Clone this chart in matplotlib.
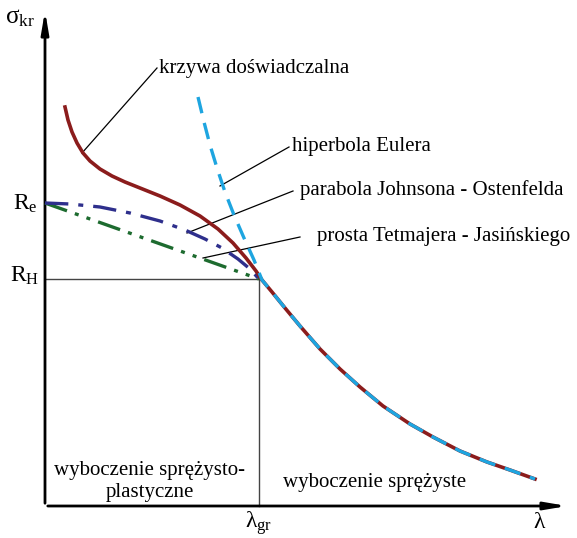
import matplotlib.pyplot as plt

# dane (jednostki umowne)
lam_exp = [20, 23, 27, 32, 38, 45, 55, 67, 80, 95, 115, 135, 155, 173, 188, 201, 211, 217,
           227, 240, 255, 275, 295, 315, 338, 365, 388, 415, 442, 465, 490]
sig_exp = [399, 386, 374, 363, 353, 345, 337, 330, 324, 318, 310, 301, 290, 277, 263, 248, 235, 226,
           214, 198, 180, 157, 137, 119, 100, 82, 69, 55, 44, 36, 27]

lam_euler = [153, 159, 165, 172, 180, 189, 199, 209, 217, 227, 240, 255, 275, 295, 315, 338,
             365, 388, 415, 442, 465, 490]
sig_euler = [409, 384, 361, 338, 314, 291, 268, 246, 226, 214, 198, 180, 157, 137, 119, 100,
             82, 69, 55, 44, 36, 27]

lam_johnson = [0, 25, 55, 85, 115, 140, 160, 177, 193, 205, 214]
sig_johnson = [303, 302, 299, 293, 285, 276, 267, 258, 247, 237, 227]

lam_tetm = [0, 214]
sig_tetm = [303, 227]

lam_gr = 214
R_e = 303
R_H = 227

plt.rcParams['font.family'] = ['Liberation Serif', 'DejaVu Serif']
plt.rcParams['mathtext.default'] = 'regular'

fig = plt.figure(figsize=(5.77, 5.38), dpi=100)
ax = fig.add_axes([0, 0, 1, 1])
ax.set_xlim(-45, 532)
ax.set_ylim(-32, 506)
ax.axis('off')

# osie
ax.annotate('', xy=(0, 498), xytext=(0, 0),
            arrowprops=dict(arrowstyle='-|>,head_length=1.3,head_width=0.22', color='black', lw=2))
ax.annotate('', xy=(525, 0), xytext=(0, 0),
            arrowprops=dict(arrowstyle='-|>,head_length=1.3,head_width=0.22', color='black', lw=2))

# linie pomocnicze
ax.plot([0, lam_gr], [R_H, R_H], color='#444444', lw=1)
ax.plot([lam_gr, lam_gr], [0, R_H], color='#444444', lw=1)

# krzywe
ax.plot(lam_tetm, sig_tetm, color='#1d6b2f', lw=2.4, dashes=[7, 2.5, 1.2, 2.5, 1.2, 2.5], zorder=3)
ax.plot(lam_johnson, sig_johnson, color='#2e2f8c', lw=2.4, dashes=[7, 3, 1.5, 3], zorder=4)
ax.plot(lam_exp, sig_exp, color='#8b1c1c', lw=2.6, zorder=5)
ax.plot(lam_euler, sig_euler, color='#1ea5e0', lw=2.4, dashes=[5, 3], zorder=6)

# opisy z odnośnikami
fs = 15
ax.plot([112, 37], [438, 353], color='black', lw=0.9)
ax.text(114, 438, 'krzywa doświadczalna', fontsize=fs, va='center', ha='left')
ax.plot([244, 175], [359, 320], color='black', lw=0.9)
ax.text(247, 359, 'hiperbola Eulera', fontsize=fs, va='center', ha='left')
ax.plot([248, 142], [315, 273], color='black', lw=0.9)
ax.text(255, 316, 'parabola Johnsona - Ostenfelda', fontsize=fs, va='center', ha='left')
ax.plot([255, 158], [269, 248], color='black', lw=0.9)
ax.text(272, 270, 'prosta Tetmajera - Jasińskiego', fontsize=fs, va='center', ha='left')

ax.text(105, 36, 'wyboczenie sprężysto-', fontsize=fs, va='center', ha='center')
ax.text(105, 13, 'plastyczne', fontsize=fs, va='center', ha='center')
ax.text(238, 24, 'wyboczenie sprężyste', fontsize=fs, va='center', ha='left')

# etykiety osi
ax.text(-25, 488, r'$σ_{kr}$', fontsize=18, va='center', ha='center')
ax.text(-20, 302, r'$R_e$', fontsize=17, va='center', ha='center')
ax.text(-20, 230, r'$R_H$', fontsize=17, va='center', ha='center')
ax.text(lam_gr, -17, r'$λ_{gr}$', fontsize=17, va='center', ha='center')
ax.text(495, -17, r'$λ$', fontsize=17, va='center', ha='center')

fig.savefig('out.png', dpi=100)
